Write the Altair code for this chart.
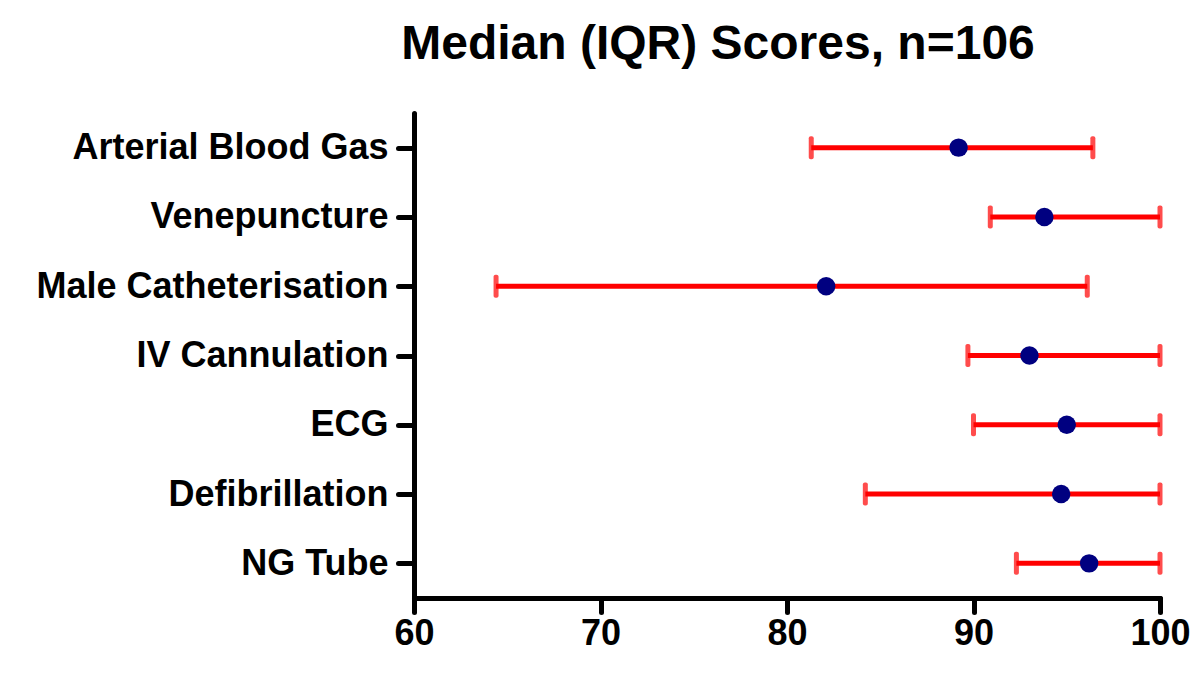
import altair as alt
import pandas as pd

categories = ["Arterial Blood Gas", "Venepuncture", "Male Catheterisation",
              "IV Cannulation", "ECG", "Defibrillation", "NG Tube"]
median = [89.2, 93.8, 82.1, 93.0, 95.0, 94.7, 96.2]
q1 = [81.3, 90.9, 64.4, 89.7, 90.0, 84.2, 92.3]
q3 = [96.4, 100.0, 96.1, 100.0, 100.0, 100.0, 100.0]

df = pd.DataFrame({"task": categories, "median": median, "q1": q1, "q3": q3})

FONT = "Liberation Sans, Arial, sans-serif"

y_enc = alt.Y("task:N", sort=categories, scale=alt.Scale(type="point", padding=0.5),
              axis=alt.Axis(title=None, labelFont=FONT, labelFontSize=36, labelFontWeight="bold",
                            labelColor="black", domainColor="black", domainWidth=5,
                            tickColor="black", tickWidth=5, tickSize=16, labelPadding=10,
                            labelLimit=0, grid=False, domainCap="round", tickCap="round"))
x_scale = alt.Scale(domain=[60, 100], nice=False, zero=False)
x_axis = alt.Axis(title=None, values=[60, 70, 80, 90, 100], labelFont=FONT, labelFontSize=36,
                  labelFontWeight="bold", labelColor="black", domainColor="black", domainWidth=5,
                  tickColor="black", tickWidth=5, tickSize=14, labelPadding=4, grid=False,
                  labelFlush=False, domainCap="round", tickCap="round")

base = alt.Chart(df)

rules = base.mark_rule(color="#ff0000", strokeWidth=5).encode(
    y=y_enc, x=alt.X("q1:Q", scale=x_scale, axis=x_axis), x2="q3:Q")
cap_lo = base.mark_tick(color="#ff0000", thickness=5, size=23, cornerRadius=2).encode(
    y=y_enc, x=alt.X("q1:Q", scale=x_scale, axis=x_axis))
cap_hi = base.mark_tick(color="#ff0000", thickness=5, size=23, cornerRadius=2).encode(
    y=y_enc, x=alt.X("q3:Q", scale=x_scale, axis=x_axis))
dots = base.mark_circle(color="#000080", opacity=1, size=340).encode(
    y=y_enc, x=alt.X("median:Q", scale=x_scale, axis=x_axis))

chart = alt.layer(rules, cap_lo, cap_hi, dots).properties(
    width=746, height=485,
    title=alt.TitleParams("Median (IQR) Scores, n=106", font=FONT, fontSize=48,
                          fontWeight="bold", color="black", anchor="middle", dx=-69, offset=44),
    autosize=alt.AutoSizeParams(type="none"),
    padding={"left": 406, "top": 105, "right": 30, "bottom": 60},
).configure_view(stroke=None)

chart.save("out.html", embed_options={"renderer": "svg", "actions": False})
